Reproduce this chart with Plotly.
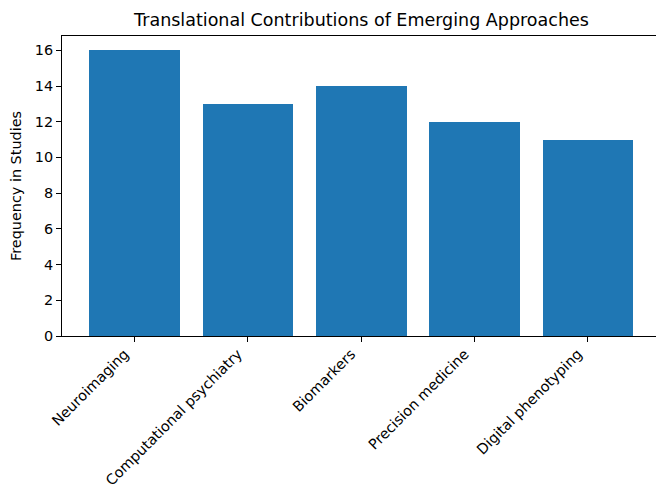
import plotly.graph_objects as go

categories = ["Neuroimaging", "Computational psychiatry", "Biomarkers", "Precision medicine", "Digital phenotyping"]
values = [16, 13, 14, 12, 11]
y_ticks = [0, 2, 4, 6, 8, 10, 12, 14, 16]

fig = go.Figure(go.Bar(x=list(range(len(categories))), y=values, width=0.8,
                       marker=dict(color="#1f77b4", line=dict(width=0))))

font = "DejaVu Sans, sans-serif"
TS = 14.4
W, H = 656, 489
fig.update_layout(
    width=W, height=H,
    margin=dict(l=62, r=0, t=36, b=153, autoexpand=False),
    plot_bgcolor="white", paper_bgcolor="white",
    showlegend=False,
    font=dict(family=font, size=TS, color="black"),
    title=dict(text="Translational Contributions of Emerging Approaches",
               x=361.5/W, xref="container", xanchor="center",
               y=1-20/H, yref="container", yanchor="middle",
               font=dict(size=17.5, family=font, color="black"), automargin=False),
    bargap=0,
)
fig.update_xaxes(
    range=[-0.64, 4.6], tickmode="array", tickvals=list(range(len(categories))),
    ticktext=categories, tickangle=-45, ticks="outside", ticklen=5, tickwidth=1,
    tickcolor="black", showline=True, linecolor="black", linewidth=1, mirror=True,
    showgrid=False, zeroline=False, ticklabelstandoff=-2, ticklabelshift=-10,
    automargin=False,
    tickfont=dict(size=TS, family=font, color="black"),
)
fig.update_yaxes(
    range=[0, 16.8], tickmode="array", tickvals=y_ticks,
    ticks="outside", ticklen=5, tickwidth=1, tickcolor="black",
    showline=True, linecolor="black", linewidth=1, showgrid=False, zeroline=False,
    automargin=False,
    title=dict(text="Frequency in Studies", font=dict(size=TS, family=font, color="black"), standoff=9),
    tickfont=dict(size=TS, family=font, color="black"),
)
fig.write_html("out.html", config={"displayModeBar": False, "staticPlot": True},
               post_script="document.body.style.margin='0';document.body.style.overflow='hidden';")
